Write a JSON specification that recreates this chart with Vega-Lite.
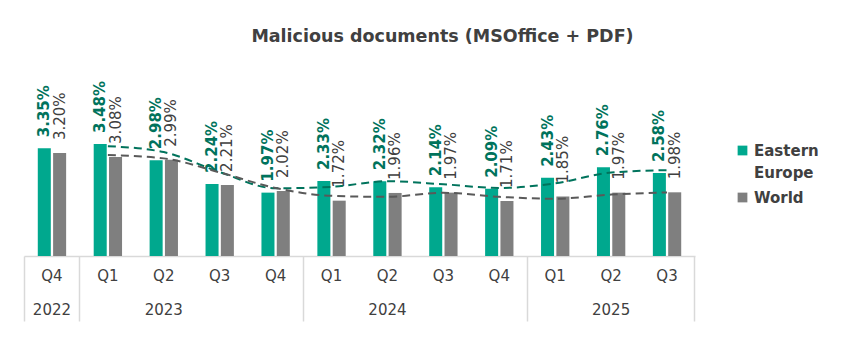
{
  "$schema": "https://vega.github.io/schema/vega-lite/v6.json",
  "width": 671,
  "height": 193,
  "autosize": {"type": "none"},
  "padding": {"left": 24, "top": 63, "right": 165, "bottom": 95},
  "background": "white",
  "title": {"text": "Malicious documents (MSOffice + PDF)", "font": "DejaVu Sans", "fontSize": 17.5, "fontWeight": "bold", "color": "#404040", "anchor": "middle", "dx": 83, "offset": 18},
  "config": {"view": {"stroke": null}, "font": "DejaVu Sans"},
  "data": {"values": [
    {"period": "2022 Q4", "series": "Eastern Europe", "value": 0.0335, "trend": null},
    {"period": "2023 Q1", "series": "Eastern Europe", "value": 0.0348, "trend": 0.03415},
    {"period": "2023 Q2", "series": "Eastern Europe", "value": 0.0298, "trend": 0.0323},
    {"period": "2023 Q3", "series": "Eastern Europe", "value": 0.0224, "trend": 0.0261},
    {"period": "2023 Q4", "series": "Eastern Europe", "value": 0.0197, "trend": 0.02105},
    {"period": "2024 Q1", "series": "Eastern Europe", "value": 0.0233, "trend": 0.0215},
    {"period": "2024 Q2", "series": "Eastern Europe", "value": 0.0232, "trend": 0.02325},
    {"period": "2024 Q3", "series": "Eastern Europe", "value": 0.0214, "trend": 0.0223},
    {"period": "2024 Q4", "series": "Eastern Europe", "value": 0.0209, "trend": 0.02115},
    {"period": "2025 Q1", "series": "Eastern Europe", "value": 0.0243, "trend": 0.0226},
    {"period": "2025 Q2", "series": "Eastern Europe", "value": 0.0276, "trend": 0.02595},
    {"period": "2025 Q3", "series": "Eastern Europe", "value": 0.0258, "trend": 0.0267},
    {"period": "2022 Q4", "series": "World", "value": 0.0320, "trend": null},
    {"period": "2023 Q1", "series": "World", "value": 0.0308, "trend": 0.0314},
    {"period": "2023 Q2", "series": "World", "value": 0.0299, "trend": 0.03035},
    {"period": "2023 Q3", "series": "World", "value": 0.0221, "trend": 0.0260},
    {"period": "2023 Q4", "series": "World", "value": 0.0202, "trend": 0.02115},
    {"period": "2024 Q1", "series": "World", "value": 0.0172, "trend": 0.0187},
    {"period": "2024 Q2", "series": "World", "value": 0.0196, "trend": 0.0184},
    {"period": "2024 Q3", "series": "World", "value": 0.0197, "trend": 0.01965},
    {"period": "2024 Q4", "series": "World", "value": 0.0171, "trend": 0.0184},
    {"period": "2025 Q1", "series": "World", "value": 0.0185, "trend": 0.0178},
    {"period": "2025 Q2", "series": "World", "value": 0.0197, "trend": 0.0191},
    {"period": "2025 Q3", "series": "World", "value": 0.0198, "trend": 0.01975}
  ]},
  "layer": [
    {
      "mark": {"type": "bar"},
      "encoding": {
        "x": {"field": "period", "type": "nominal", "sort": null,
              "scale": {"paddingInner": 0, "paddingOuter": 0},
              "axis": {"orient": "bottom", "title": null, "ticks": false, "tickSize": 0, "labelExpr": "split(datum.value, ' ')[1]", "labelAngle": 0, "labelFontSize": 15, "labelColor": "#404040", "labelPadding": 12, "domain": true, "domainColor": "#d9d9d9", "domainWidth": 1.5, "grid": false}},
        "xOffset": {"field": "series", "type": "nominal", "scale": {"paddingInner": 0.15, "paddingOuter": 0.9}},
        "y": {"field": "value", "type": "quantitative", "scale": {"domain": [0, 0.06]}, "axis": null},
        "color": {"field": "series", "type": "nominal",
                  "scale": {"domain": ["Eastern Europe", "World"], "range": ["#00A88E", "#7F7F7F"]},
                  "legend": {"orient": "none", "legendX": 711, "legendY": 80, "title": null, "symbolType": "square", "symbolSize": 95, "symbolStrokeWidth": 0, "labelFontSize": 15, "labelFontWeight": "bold", "labelColor": "#404040", "labelExpr": "datum.label == 'Eastern Europe' ? ['Eastern', 'Europe'] : datum.label", "rowPadding": 9,
                             "encode": {"labels": {"update": {"lineHeight": {"value": 22}}}}}}
      }
    },
    {
      "transform": [{"filter": "datum.series == 'Eastern Europe'"}],
      "mark": {"type": "text", "angle": 270, "align": "left", "baseline": "middle", "dx": 11, "fontSize": 15, "fontWeight": "bold", "color": "#00735C"},
      "encoding": {
        "x": {"field": "period", "type": "nominal", "sort": null,
              "axis": {"orient": "bottom", "title": null, "values": ["2022 Q4", "2023 Q1", "2024 Q1", "2025 Q1"], "bandPosition": 0, "ticks": true, "tickSize": 65, "tickColor": "#d9d9d9", "tickWidth": 1.5, "labels": false, "domain": false, "grid": false}},
        "xOffset": {"field": "series", "type": "nominal"},
        "y": {"field": "value", "type": "quantitative"},
        "text": {"field": "value", "type": "quantitative", "format": ".2%"}
      }
    },
    {
      "transform": [{"filter": "datum.series == 'World'"}],
      "mark": {"type": "text", "angle": 270, "align": "left", "baseline": "middle", "dx": 13, "fontSize": 15, "color": "#404040"},
      "encoding": {
        "x": {"field": "period", "type": "nominal", "sort": null,
              "axis": {"orient": "bottom", "title": null, "values": ["2025 Q3"], "bandPosition": 1, "ticks": true, "tickSize": 65, "tickColor": "#d9d9d9", "tickWidth": 1.5, "labels": false, "domain": false, "grid": false}},
        "xOffset": {"field": "series", "type": "nominal"},
        "y": {"field": "value", "type": "quantitative"},
        "text": {"field": "value", "type": "quantitative", "format": ".2%"}
      }
    },
    {
      "transform": [{"filter": "datum.series == 'Eastern Europe' && isValid(datum.trend)"}],
      "mark": {"type": "line", "strokeDash": [8, 5], "strokeWidth": 2, "interpolate": "monotone", "color": "#00735C"},
      "encoding": {
        "x": {"field": "period", "type": "nominal", "sort": null,
              "axis": {"orient": "bottom", "title": null, "values": ["2022 Q4", "2025 Q2"], "bandPosition": 0.5, "ticks": false, "tickSize": 0, "labelExpr": "split(datum.value, ' ')[0]", "labelAngle": 0, "labelFontSize": 15, "labelColor": "#404040", "labelPadding": 46, "domain": false, "grid": false}},
        "y": {"field": "trend", "type": "quantitative"}
      }
    },
    {
      "transform": [{"filter": "datum.series == 'World' && isValid(datum.trend)"}],
      "mark": {"type": "line", "strokeDash": [8, 5], "strokeWidth": 2, "interpolate": "monotone", "color": "#595959"},
      "encoding": {
        "x": {"field": "period", "type": "nominal", "sort": null,
              "axis": {"orient": "bottom", "title": null, "values": ["2023 Q2", "2024 Q2"], "bandPosition": 1, "ticks": false, "tickSize": 0, "labelExpr": "split(datum.value, ' ')[0]", "labelAngle": 0, "labelFontSize": 15, "labelColor": "#404040", "labelPadding": 46, "domain": false, "grid": false}},
        "y": {"field": "trend", "type": "quantitative"}
      }
    }
  ],
  "resolve": {"axis": {"x": "independent"}}
}
